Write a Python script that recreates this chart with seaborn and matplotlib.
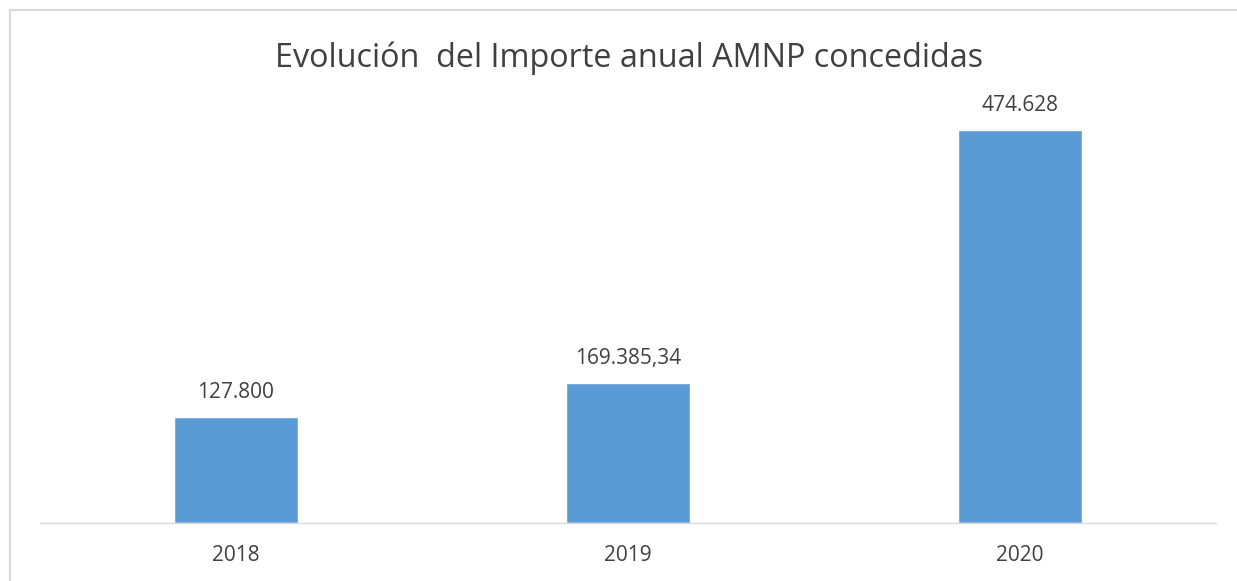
import matplotlib
matplotlib.use("Agg")
import matplotlib.pyplot as plt
import seaborn as sns
import pandas as pd
from matplotlib.patches import Rectangle

# Data
years = ["2018", "2019", "2020"]
importes = [127800, 169385.34, 474628]
etiquetas = ["127.800", "169.385,34", "474.628"]

sns.set_style("white")
plt.rcParams['font.family'] = ['Open Sans', 'DejaVu Sans']

df = pd.DataFrame({"year": years, "importe": importes})

fig = plt.figure(figsize=(12.37, 5.81), dpi=100)
ax = fig.add_axes([0.0323, 0.0998, 0.9507, 0.7126])

sns.barplot(data=df, x="year", y="importe", color="#5B9BD5", width=0.315,
            saturation=1, ax=ax)

ax.set_ylim(0, 500000)
ax.set_xlim(-0.5, 2.5)
for i, lab in enumerate(etiquetas):
    ax.annotate(lab, (i, importes[i]), xytext=(0, 10), textcoords="offset points",
                ha="center", va="bottom", fontsize=15, color="#404040")

ax.set_xlabel("")
ax.set_ylabel("")
ax.set_yticks([])
ax.tick_params(axis="x", length=0, labelsize=15, labelcolor="#404040", pad=16)
for s in ["top", "right", "left"]:
    ax.spines[s].set_visible(False)
ax.spines["bottom"].set_color("#D9D9D9")
ax.spines["bottom"].set_linewidth(1)

fig.text(0.5085, 0.9, "Evolución  del Importe anual AMNP concedidas", ha="center",
         va="center", fontsize=23.3, color="#404040")

# chart frame
fig.patches.append(Rectangle((10 / 1237, -0.01), 1.0, 1 - 10 / 581 + 0.01,
                             transform=fig.transFigure, fill=False,
                             edgecolor="#D9D9D9", linewidth=1.5))

fig.savefig("out.png", dpi=100)
